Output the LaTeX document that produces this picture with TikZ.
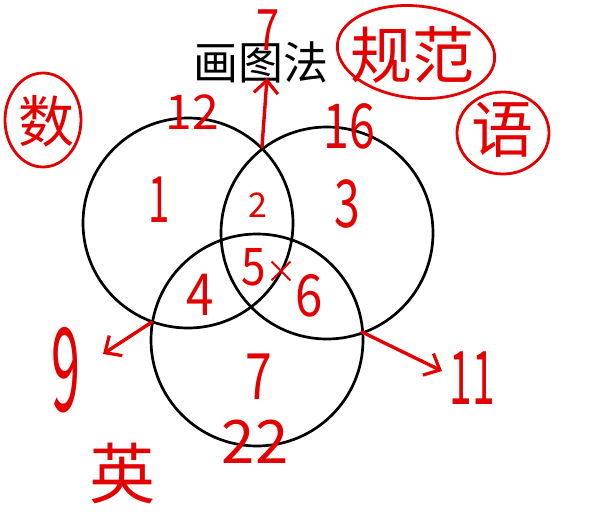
\documentclass[tikz,border=0pt]{standalone}
\usepackage{fontspec}
\setmainfont{Noto Sans CJK SC}
\newfontfamily\cjk{Noto Sans CJK SC}
\usetikzlibrary{arrows.meta}
\definecolor{hand}{RGB}{228,0,0}
\tikzset{
  ring/.style={draw=black, line width=2.7pt},
  hnum/.style={text=hand, inner sep=0pt, font=\cjk\fontsize{#1}{#1}\selectfont},
  hnum/.default=50,
  harrow/.style={draw=hand, line width=3.4pt, line cap=round, -{Straight Barb[length=13pt,width=24pt,line width=3.2pt]}},
  hloop/.style={draw=hand, line width=2.8pt},
}
\begin{document}
\begin{tikzpicture}[x=1pt,y=-1pt]
\useasboundingbox (0,0) rectangle (613,525);
% circles
\draw[ring] (188,223) circle (105);
\draw[ring] (327,233) circle (106);
\draw[ring] (257,340) circle (106);
% intersections
\coordinate (top) at (262,147);
\coordinate (lb) at (152,322);
\coordinate (rb) at (362,332);
\coordinate (upend) at (267,78);
\coordinate (nineend) at (103,354);
\coordinate (elevend) at (442,371);
% title
\node[inner sep=0pt, font=\cjk\fontsize{45}{45}\selectfont] (title) at (261,62) {画图法};
% circled words
\node[hnum=62] (gf) at (412,55) {规范};
\draw[hloop, rotate around={-6:(416,52)}] (416,52) ellipse (79 and 46);
\node[hnum=56] (shu) at (46,121) {数};
\draw[hloop] (43,120) ellipse (38 and 47);
\node[hnum=62] (yu) at (502,130) {语};
\draw[hloop] (503,133) ellipse (46 and 41);
\node[hnum=66] (ying) at (122,473) {英};
% arrows
\draw[harrow] (top) -- (upend);
\draw[harrow] (lb) -- (nineend);
\draw[harrow] (rb) -- (elevend);
% numbers
\node[hnum=52] (n7top) at (268,30) {\scalebox{0.8}[1.1]{7}};
\node[hnum=48] (n12) at (192,112) {12};
\node[hnum=62] (n16) at (349,126) {\scalebox{0.75}[1]{16}};
\node[hnum=64] (n1) at (159,200) {\scalebox{0.6}[1]{1}};
\node[hnum=34] (n2) at (258,205) {2};
\node[hnum=66] (n3) at (347,204) {\scalebox{0.7}[1]{3}};
\node[hnum=58] (n4) at (200,295) {\scalebox{0.85}[1]{4}};
\node[hnum=52] (n5) at (254,267) {\scalebox{0.85}[1]{5}};
\node[hnum=32] (nx) at (281,272) {×};
\node[hnum=58] (n6) at (309,296) {\scalebox{0.85}[1]{6}};
\node[hnum=64] (n7) at (259,377) {\scalebox{0.75}[1]{7}};
\node[hnum=60] (n22) at (255,442) {22};
\node[hnum=116] (n9) at (66,370) {\scalebox{0.45}[1]{9}};
\node[hnum=74] (n11) at (472,378) {\scalebox{0.55}[1]{11}};
\end{tikzpicture}
\end{document}
